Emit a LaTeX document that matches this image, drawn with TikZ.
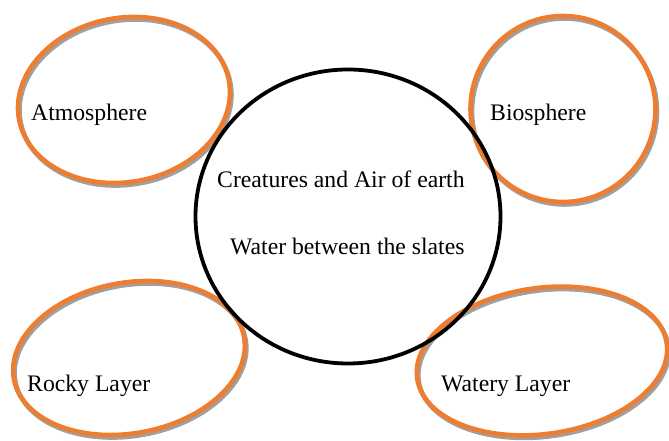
\documentclass[tikz,border=0pt]{standalone}
\usepackage{fontspec}
\setmainfont{Liberation Serif}
\definecolor{corange}{HTML}{ED7D31}
\definecolor{cgrey}{HTML}{A0A0A0}
\tikzset{
  ring/.style={draw=corange, line width=4.6pt},
  ringshadow/.style={draw=cgrey, line width=4.6pt},
  core/.style={draw=black, line width=3.8pt},
  note/.style={font=\fontsize{23.7}{28}\selectfont, anchor=base west, inner sep=0pt},
}
\begin{document}
\begin{tikzpicture}[x=1pt, y=1pt]
  \useasboundingbox (0,0) rectangle (669,441);
  % ---- four spheres: grey shadow first, orange ring on top ----
  \draw[ringshadow, rotate around={10.5:(125.5,338.5)}] (125.5,338.5) ellipse [x radius=106.7, y radius=82.1];
  \draw[ring, rotate around={10.5:(124,341)}] (124,341) ellipse [x radius=106.7, y radius=82.1];
  \draw[ringshadow] (564.5,329.5) ellipse [x radius=92.5, y radius=93];
  \draw[ring] (563,332) ellipse [x radius=92.5, y radius=93];
  \draw[ringshadow, rotate around={10.4:(130.5,80.5)}] (130.5,80.5) ellipse [x radius=117, y radius=75.3];
  \draw[ring, rotate around={10.4:(129,83)}] (129,83) ellipse [x radius=117, y radius=75.3];
  \draw[ringshadow, rotate around={8:(543.5,77.5)}] (543.5,77.5) ellipse [x radius=126, y radius=73];
  \draw[ring, rotate around={8:(542,80)}] (542,80) ellipse [x radius=126, y radius=73];
  % ---- centre: the earth ----
  \draw[core] (348,224.5) ellipse [x radius=152.5, y radius=147];
  % ---- texts ----
  \node[note] (atmo) at (31,320.5) {Atmosphere};
  \node[note] (bio) at (490,320.5) {Biosphere};
  \node[note] (core1) at (217,253.3) {Creatures and Air of earth};
  \node[note] (core2) at (230,186) {Water between the slates};
  \node[note] (rocky) at (27,49.3) {Rocky Layer};
  \node[note] (watery) at (441,49.3) {Watery Layer};
\end{tikzpicture}
\end{document}
